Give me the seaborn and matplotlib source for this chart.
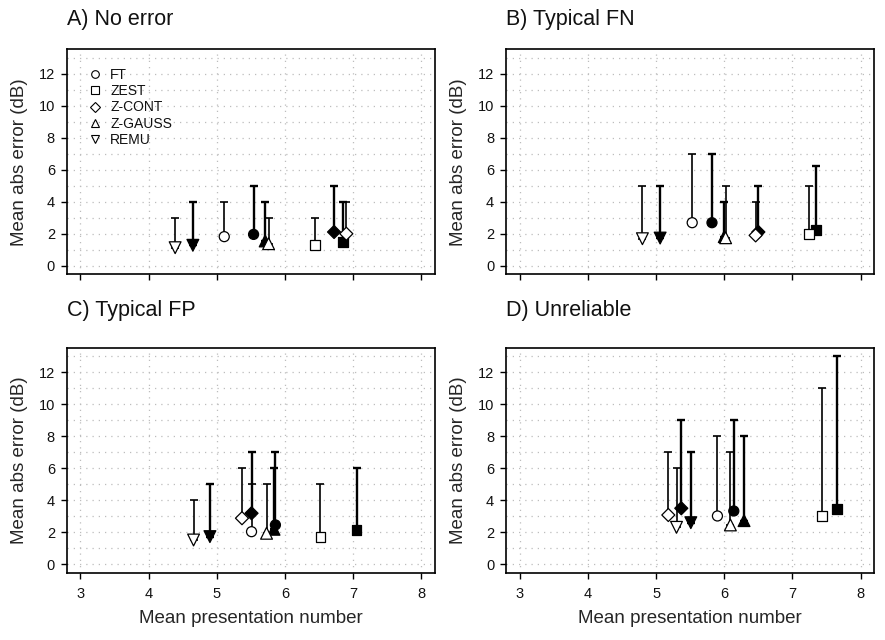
import numpy as np
import pandas as pd
import matplotlib
matplotlib.use("Agg")
import matplotlib.pyplot as plt
import seaborn as sns
from matplotlib.lines import Line2D
from matplotlib.ticker import MultipleLocator

# ---------------- data ----------------
algorithms = ["FT", "ZEST", "Z-CONT", "Z-GAUSS", "REMU"]
panel_titles = ["A) No error", "B) Typical FN", "C) Typical FP", "D) Unreliable"]
x_ticks = [3, 4, 5, 6, 7, 8]
y_ticks = [0, 2, 4, 6, 8, 10, 12]

# A) No error
a_open_x = [5.11, 6.44, 6.90, 5.76, 4.39]
a_open_y = [1.83, 1.29, 2.01, 1.39, 1.14]
a_open_top = [4, 3, 4, 3, 3]
a_filled_x = [5.54, 6.85, 6.72, 5.71, 4.65]
a_filled_y = [1.97, 1.52, 2.12, 1.56, 1.29]
a_filled_top = [5, 4, 5, 4, 4]

# B) Typical FN
b_open_x = [5.53, 7.24, 6.46, 6.02, 4.80]
b_open_y = [2.70, 1.97, 1.91, 1.76, 1.70]
b_open_top = [7, 5, 4, 5, 5]
b_filled_x = [5.82, 7.35, 6.50, 6.00, 5.06]
b_filled_y = [2.70, 2.22, 2.12, 1.83, 1.74]
b_filled_top = [7, 6.25, 5, 4, 5]

# C) Typical FP
c_open_x = [5.51, 6.52, 5.37, 5.73, 4.66]
c_open_y = [2.04, 1.73, 2.88, 1.94, 1.52]
c_open_top = [5, 5, 6, 5, 4]
c_filled_x = [5.86, 7.05, 5.51, 5.84, 4.90]
c_filled_y = [2.46, 2.15, 3.19, 2.19, 1.73]
c_filled_top = [7, 6, 7, 6, 5]

# D) Unreliable
d_open_x = [5.90, 7.43, 5.18, 6.09, 5.30]
d_open_y = [3.02, 3.02, 3.08, 2.46, 2.31]
d_open_top = [8, 11, 7, 7, 6]
d_filled_x = [6.14, 7.65, 5.37, 6.29, 5.51]
d_filled_y = [3.33, 3.46, 3.50, 2.73, 2.60]
d_filled_top = [9, 13, 9, 8, 7]

panel_data = [
    (a_open_x, a_open_y, a_open_top, a_filled_x, a_filled_y, a_filled_top),
    (b_open_x, b_open_y, b_open_top, b_filled_x, b_filled_y, b_filled_top),
    (c_open_x, c_open_y, c_open_top, c_filled_x, c_filled_y, c_filled_top),
    (d_open_x, d_open_y, d_open_top, d_filled_x, d_filled_y, d_filled_top),
]

rows = []
for title, (ox, oy, ot, fx, fy, ft) in zip(panel_titles, panel_data):
    for variant, xs, ys, ts in (("filled", fx, fy, ft), ("open", ox, oy, ot)):
        for alg, xv, yv, tv in zip(algorithms, xs, ys, ts):
            rows.append(dict(panel=title, variant=variant, algorithm=alg, x=xv, y=yv, top=tv))
df = pd.DataFrame(rows)

# ---------------- style ----------------
sns.set_style("ticks")
plt.rcParams["font.family"] = ["Liberation Sans", "DejaVu Sans"]
plt.rcParams["text.color"] = "#111111"

marker_map = {"FT": "o", "ZEST": "s", "Z-CONT": "D", "Z-GAUSS": "^", "REMU": "v"}
size_map = {"FT": 52, "ZEST": 50, "Z-CONT": 44, "Z-GAUSS": 72, "REMU": 72}

fig = plt.figure(figsize=(8.85, 6.4), dpi=100)
W, H = 885.0, 640.0
lefts = [66.7, 506.0]
tops = [49.3, 347.7]
aw, ah = 368.3, 225.0

for i, title in enumerate(panel_titles):
    r, c = divmod(i, 2)
    ax = fig.add_axes([lefts[c] / W, 1 - (tops[r] + ah) / H, aw / W, ah / H])
    d = df[df.panel == title]

    for variant, lw in (("filled", 1.7), ("open", 1.2)):
        s = d[d.variant == variant]
        ax.errorbar(s.x, s.y, yerr=[np.zeros(len(s)), s.top - s.y], fmt="none",
                    ecolor="black", elinewidth=lw, capsize=2.6, capthick=lw, zorder=2)

    sns.scatterplot(data=d, x="x", y="y", hue="variant",
                    palette={"open": "white", "filled": "black"},
                    style="algorithm", markers=marker_map,
                    size="algorithm", sizes=size_map,
                    edgecolor="black", linewidth=0.9, legend=False, ax=ax, zorder=3)

    ax.set_xlim(2.8, 8.2)
    ax.set_ylim(-0.52, 13.52)
    ax.set_xticks(x_ticks)
    ax.set_yticks(y_ticks)
    ax.yaxis.set_minor_locator(MultipleLocator(1))
    ax.grid(True, which="both", color="#bdbdbd", linestyle=(0, (1, 4)), linewidth=0.9)
    ax.set_axisbelow(True)
    for sp in ax.spines.values():
        sp.set_visible(True)
        sp.set_color("black")
        sp.set_linewidth(1.2)
    ax.tick_params(which="major", direction="out", length=4.5, width=1.0, colors="black",
                   labelsize=10.5, pad=4, labelcolor="#111111")
    ax.tick_params(axis="x", which="major", pad=6)
    ax.tick_params(which="minor", length=0)

    ax.set_ylabel("Mean abs error (dB)", fontsize=13.5)
    ax.yaxis.set_label_coords(-0.105, 0.5)
    if r == 1:
        ax.set_xticklabels([str(t) for t in x_ticks])
        ax.set_xlabel("Mean presentation number", fontsize=13.5)
        ax.xaxis.set_label_coords(0.5, -0.165)
    else:
        ax.set_xticklabels([])
        ax.set_xlabel("")
    ax.set_title(title, loc="left", fontsize=15.5, pad=17.5 if r == 0 else 22.8)

    if i == 0:
        handles = [Line2D([], [], linestyle="none", marker=marker_map[a], markersize=5.5,
                          markerfacecolor="white", markeredgecolor="black", markeredgewidth=0.8)
                   for a in algorithms]
        ax.legend(handles, algorithms, loc="upper left", bbox_to_anchor=(0.058, 0.918),
                  frameon=False, fontsize=10, handlelength=1.0, handletextpad=0.58,
                  labelspacing=0.17, borderpad=0, borderaxespad=0)

fig.savefig("out.png", dpi=100)
